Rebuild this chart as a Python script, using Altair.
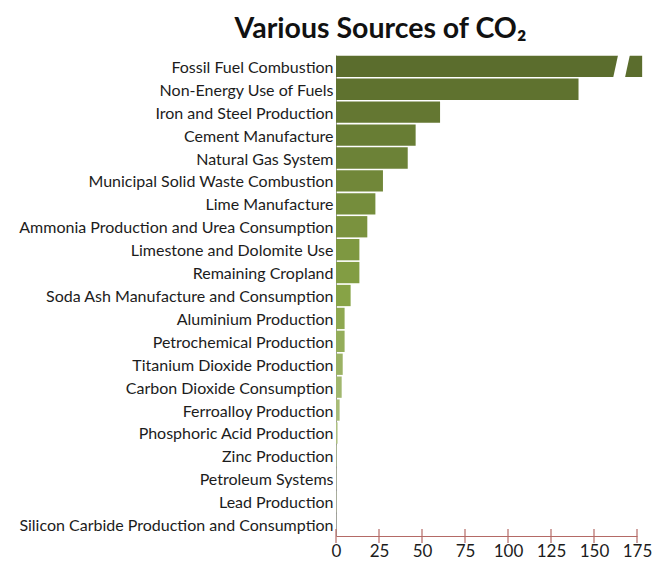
import altair as alt
import pandas as pd

# CO2 emission sources, largest first (bar length in Tg CO2 Eq.; top bar is truncated)
sources = [
    "Fossil Fuel Combustion",
    "Non-Energy Use of Fuels",
    "Iron and Steel Production",
    "Cement Manufacture",
    "Natural Gas System",
    "Municipal Solid Waste Combustion",
    "Lime Manufacture",
    "Ammonia Production and Urea Consumption",
    "Limestone and Dolomite Use",
    "Remaining Cropland",
    "Soda Ash Manufacture and Consumption",
    "Aluminium Production",
    "Petrochemical Production",
    "Titanium Dioxide Production",
    "Carbon Dioxide Consumption",
    "Ferroalloy Production",
    "Phosphoric Acid Production",
    "Zinc Production",
    "Petroleum Systems",
    "Lead Production",
    "Silicon Carbide Production and Consumption",
]
emissions = [178, 141, 60.5, 46.3, 41.7, 27.3, 22.9, 18.2, 13.6, 13.6, 8.5,
             5.0, 5.0, 3.9, 3.3, 2.1, 0.9, 0.3, 0.2, 0.2, 0.1]
axis_ticks = [0, 25, 50, 75, 100, 125, 150, 175]
# where the truncated top bar is cut
break_source = ["Fossil Fuel Combustion"]
break_at = [166]

W, H = 301, 481
AXIS_RED = "#b46a66"
FONT = "Lato"

df = pd.DataFrame({"source": sources, "value": emissions, "rank": range(len(sources))})
brk = pd.DataFrame({"source": break_source, "value": break_at})
tick_df = pd.DataFrame({"value": axis_ticks})

y_scale = alt.Scale(domain=sources, paddingInner=0.07, paddingOuter=0.03)
x_scale = alt.Scale(domain=[0, 175], nice=False)

y_axis = alt.Axis(
    ticks=False,
    grid=False,
    domainColor="#9a9a9a",
    domainWidth=1,
    labelFont=FONT,
    labelFontSize=16,
    labelColor="#1c1c1c",
    labelPadding=3,
    labelOffset=1.5,
    labelLimit=400,
)
x_axis = alt.Axis(
    values=axis_ticks,
    grid=False,
    domain=True,
    domainColor=AXIS_RED,
    domainWidth=1.2,
    ticks=False,
    labelFont=FONT,
    labelFontSize=17,
    labelColor="#1c1c1c",
    labelPadding=7,
    labelFlush=False,
)

bars = alt.Chart(df).mark_bar(clip=False).encode(
    y=alt.Y("source:N", scale=y_scale, title=None, axis=y_axis),
    x=alt.X("value:Q", scale=x_scale, title=None, axis=x_axis),
    color=alt.Color(
        "rank:Q",
        legend=None,
        scale=alt.Scale(range=["#5b6d2d", "#87a346", "#c9d6aa"]),
    ),
)

# slanted white gap marking the truncated bar
gap = alt.Chart(brk).mark_point(
    shape="M -0.3 -1.15 L 0.8 -1.15 L 0.3 1.15 L -0.8 1.15 Z",
    filled=True,
    color="white",
    opacity=1,
    size=460,
    clip=False,
).encode(
    y=alt.Y("source:N", scale=y_scale, title=None, axis=y_axis),
    x=alt.X("value:Q", scale=x_scale, title=None, axis=x_axis),
)

# tick marks crossing the baseline
ticks = alt.Chart(tick_df).mark_rule(color=AXIS_RED, strokeWidth=1.2).encode(
    x=alt.X("value:Q", scale=x_scale, title=None, axis=x_axis),
    y=alt.value(H - 7),
    y2=alt.value(H + 7),
)

chart = (
    alt.layer(bars, gap, ticks)
    .properties(
        width=W,
        height=H,
        background="white",
        autosize=alt.AutoSizeParams(type="none"),
        padding={"left": 336, "top": 55, "right": 24, "bottom": 34},
        title=alt.TitleParams(
            "Various Sources of CO₂",
            font=FONT,
            fontSize=28.5,
            fontWeight="bold",
            color="#111111",
            anchor="middle",
            dx=-106,
            offset=11,
        ),
    )
    .configure_view(stroke=None, strokeWidth=0)
)

chart.save("out.html", embed_options={"renderer": "svg", "actions": False})
